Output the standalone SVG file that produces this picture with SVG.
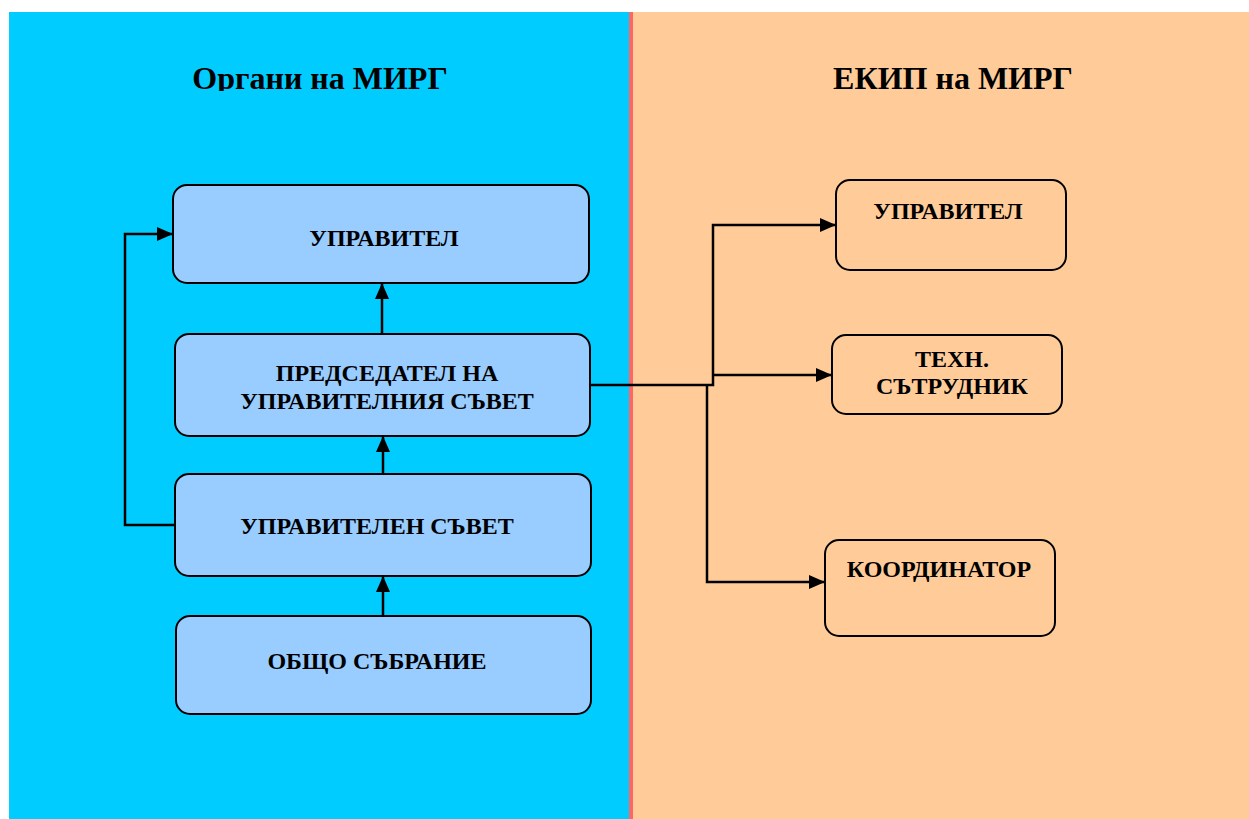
<svg xmlns="http://www.w3.org/2000/svg" width="1249" height="819" viewBox="0 0 1249 819">
<style>
.bg{stroke:none}
.lbox{fill:#99ccff;stroke:#000;stroke-width:2}
.rbox{fill:#ffcc99;stroke:#000;stroke-width:2}
.t{font-family:"Liberation Serif","Times New Roman",serif;font-weight:bold;fill:#000;text-anchor:middle}
.title{font-size:32px}
.lbl{font-size:24px}
.c{fill:none;stroke:#000;stroke-width:2.5}
</style>
<defs>
<marker id="ah" markerWidth="16" markerHeight="14" refX="15" refY="7" orient="auto" markerUnits="userSpaceOnUse">
<path d="M0,0 L16,7 L0,14 Z" fill="#000"/>
</marker>
<clipPath id="tclip"><rect x="0" y="0" width="1249" height="91"/></clipPath>
</defs>
<rect x="0" y="0" width="1249" height="819" fill="#fff"/>
<rect class="bg" x="9" y="12" width="621" height="807" fill="#00ccff"/>
<rect class="bg" x="633" y="12" width="616" height="807" fill="#ffcc99"/>
<rect class="bg" x="629" y="12" width="4" height="807" fill="#ff6666"/>
<g clip-path="url(#tclip)">
<text class="t title" x="320" y="89">Органи на МИРГ</text>
<text class="t title" x="953" y="89">ЕКИП на МИРГ</text>
</g>
<g id="connectors">
<path class="c" d="M382,334 L382,284" marker-end="url(#ah)"/>
<path class="c" d="M383,474 L383,437" marker-end="url(#ah)"/>
<path class="c" d="M383,616 L383,577" marker-end="url(#ah)"/>
<path class="c" d="M175,525 L125,525 L125,234 L172,234" marker-end="url(#ah)"/>
<path class="c" d="M590,385 L713,385 L713,225 L835,225" marker-end="url(#ah)"/>
<path class="c" d="M713,375 L831,375" marker-end="url(#ah)"/>
<path class="c" d="M707,385 L707,582 L824,582" marker-end="url(#ah)"/>
</g>
<g id="n-upravitel-l">
<rect class="lbox" x="173" y="185" width="416" height="98" rx="14"/>
<text class="t lbl" x="384" y="246">УПРАВИТЕЛ</text>
</g>
<g id="n-predsedatel">
<rect class="lbox" x="175" y="334" width="415" height="102" rx="14"/>
<text class="t lbl" x="387" y="381">ПРЕДСЕДАТЕЛ НА</text>
<text class="t lbl" x="387" y="409">УПРАВИТЕЛНИЯ СЪВЕТ</text>
</g>
<g id="n-us">
<rect class="lbox" x="175" y="474" width="416" height="102" rx="14"/>
<text class="t lbl" x="377" y="534">УПРАВИТЕЛЕН СЪВЕТ</text>
</g>
<g id="n-os">
<rect class="lbox" x="176" y="616" width="415" height="98" rx="14"/>
<text class="t lbl" x="377" y="669">ОБЩО СЪБРАНИЕ</text>
</g>
<g id="n-upravitel-r">
<rect class="rbox" x="836" y="180" width="230" height="90" rx="14"/>
<text class="t lbl" x="948" y="219">УПРАВИТЕЛ</text>
</g>
<g id="n-tehn">
<rect class="rbox" x="832" y="335" width="230" height="79" rx="14"/>
<text class="t lbl" x="952" y="367">ТЕХН.</text>
<text class="t lbl" x="952" y="394">СЪТРУДНИК</text>
</g>
<g id="n-koord">
<rect class="rbox" x="825" y="540" width="230" height="96" rx="14"/>
<text class="t lbl" x="939" y="577">КООРДИНАТОР</text>
</g>
</svg>
